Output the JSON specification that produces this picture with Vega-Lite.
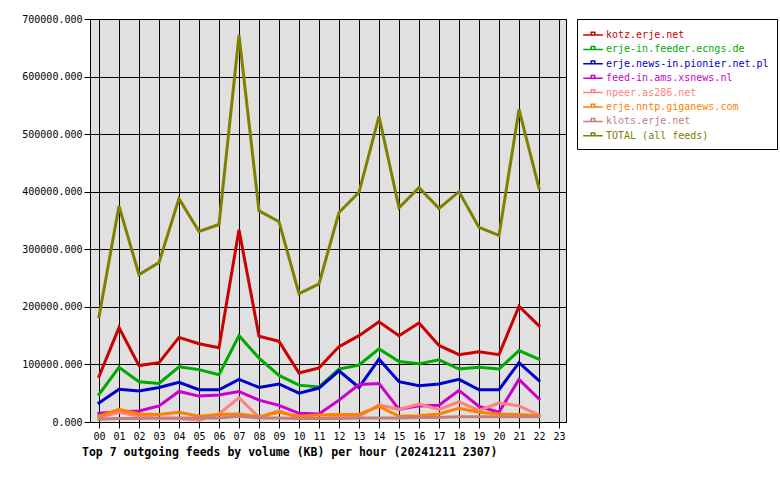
{
  "$schema": "https://vega.github.io/schema/vega-lite/v6.json",
  "width": 476,
  "height": 403,
  "autosize": "none",
  "padding": {"left": 90, "top": 19, "right": 214, "bottom": 58},
  "background": "white",
  "title": {
    "text": "Top 7 outgoing feeds by volume (KB) per hour (20241211 2307)",
    "orient": "bottom",
    "anchor": "start",
    "frame": "group",
    "dx": -8,
    "offset": 6,
    "font": "DejaVu Sans Mono",
    "fontWeight": "bold",
    "fontSize": 11.5,
    "color": "black"
  },
  "config": {
    "view": {"fill": "#e0e0e0", "stroke": "black", "strokeWidth": 1},
    "axis": {
      "gridColor": "black",
      "gridOpacity": 1,
      "gridWidth": 1,
      "domainColor": "black",
      "tickColor": "black",
      "tickSize": 6,
      "labelColor": "black",
      "labelFont": "DejaVu Sans Mono",
      "labelFontSize": 10,
      "title": null
    }
  },
  "datasets": {
    "feeds": [
      {"h":0,"f":"kotz.erje.net","v":79000},{"h":1,"f":"kotz.erje.net","v":164000},{"h":2,"f":"kotz.erje.net","v":98000},{"h":3,"f":"kotz.erje.net","v":103000},{"h":4,"f":"kotz.erje.net","v":147000},{"h":5,"f":"kotz.erje.net","v":136000},{"h":6,"f":"kotz.erje.net","v":129000},{"h":7,"f":"kotz.erje.net","v":334000},{"h":8,"f":"kotz.erje.net","v":149000},{"h":9,"f":"kotz.erje.net","v":140000},{"h":10,"f":"kotz.erje.net","v":85000},{"h":11,"f":"kotz.erje.net","v":94000},{"h":12,"f":"kotz.erje.net","v":131000},{"h":13,"f":"kotz.erje.net","v":150000},{"h":14,"f":"kotz.erje.net","v":174000},{"h":15,"f":"kotz.erje.net","v":150000},{"h":16,"f":"kotz.erje.net","v":172000},{"h":17,"f":"kotz.erje.net","v":133000},{"h":18,"f":"kotz.erje.net","v":117000},{"h":19,"f":"kotz.erje.net","v":122000},{"h":20,"f":"kotz.erje.net","v":117000},{"h":21,"f":"kotz.erje.net","v":201000},{"h":22,"f":"kotz.erje.net","v":167000},
      {"h":0,"f":"erje-in.feeder.ecngs.de","v":48000},{"h":1,"f":"erje-in.feeder.ecngs.de","v":95000},{"h":2,"f":"erje-in.feeder.ecngs.de","v":70000},{"h":3,"f":"erje-in.feeder.ecngs.de","v":67000},{"h":4,"f":"erje-in.feeder.ecngs.de","v":96000},{"h":5,"f":"erje-in.feeder.ecngs.de","v":91000},{"h":6,"f":"erje-in.feeder.ecngs.de","v":82000},{"h":7,"f":"erje-in.feeder.ecngs.de","v":150000},{"h":8,"f":"erje-in.feeder.ecngs.de","v":111000},{"h":9,"f":"erje-in.feeder.ecngs.de","v":81000},{"h":10,"f":"erje-in.feeder.ecngs.de","v":64000},{"h":11,"f":"erje-in.feeder.ecngs.de","v":61000},{"h":12,"f":"erje-in.feeder.ecngs.de","v":92000},{"h":13,"f":"erje-in.feeder.ecngs.de","v":99000},{"h":14,"f":"erje-in.feeder.ecngs.de","v":127000},{"h":15,"f":"erje-in.feeder.ecngs.de","v":105000},{"h":16,"f":"erje-in.feeder.ecngs.de","v":101000},{"h":17,"f":"erje-in.feeder.ecngs.de","v":108000},{"h":18,"f":"erje-in.feeder.ecngs.de","v":92000},{"h":19,"f":"erje-in.feeder.ecngs.de","v":95000},{"h":20,"f":"erje-in.feeder.ecngs.de","v":92000},{"h":21,"f":"erje-in.feeder.ecngs.de","v":124000},{"h":22,"f":"erje-in.feeder.ecngs.de","v":109000},
      {"h":0,"f":"erje.news-in.pionier.net.pl","v":33000},{"h":1,"f":"erje.news-in.pionier.net.pl","v":57000},{"h":2,"f":"erje.news-in.pionier.net.pl","v":54000},{"h":3,"f":"erje.news-in.pionier.net.pl","v":60000},{"h":4,"f":"erje.news-in.pionier.net.pl","v":69000},{"h":5,"f":"erje.news-in.pionier.net.pl","v":56000},{"h":6,"f":"erje.news-in.pionier.net.pl","v":56000},{"h":7,"f":"erje.news-in.pionier.net.pl","v":74000},{"h":8,"f":"erje.news-in.pionier.net.pl","v":60000},{"h":9,"f":"erje.news-in.pionier.net.pl","v":66000},{"h":10,"f":"erje.news-in.pionier.net.pl","v":50000},{"h":11,"f":"erje.news-in.pionier.net.pl","v":59000},{"h":12,"f":"erje.news-in.pionier.net.pl","v":89000},{"h":13,"f":"erje.news-in.pionier.net.pl","v":60000},{"h":14,"f":"erje.news-in.pionier.net.pl","v":109000},{"h":15,"f":"erje.news-in.pionier.net.pl","v":70000},{"h":16,"f":"erje.news-in.pionier.net.pl","v":63000},{"h":17,"f":"erje.news-in.pionier.net.pl","v":66000},{"h":18,"f":"erje.news-in.pionier.net.pl","v":74000},{"h":19,"f":"erje.news-in.pionier.net.pl","v":56000},{"h":20,"f":"erje.news-in.pionier.net.pl","v":56000},{"h":21,"f":"erje.news-in.pionier.net.pl","v":103000},{"h":22,"f":"erje.news-in.pionier.net.pl","v":72000},
      {"h":0,"f":"feed-in.ams.xsnews.nl","v":15000},{"h":1,"f":"feed-in.ams.xsnews.nl","v":18000},{"h":2,"f":"feed-in.ams.xsnews.nl","v":19000},{"h":3,"f":"feed-in.ams.xsnews.nl","v":28000},{"h":4,"f":"feed-in.ams.xsnews.nl","v":53000},{"h":5,"f":"feed-in.ams.xsnews.nl","v":45000},{"h":6,"f":"feed-in.ams.xsnews.nl","v":47000},{"h":7,"f":"feed-in.ams.xsnews.nl","v":53000},{"h":8,"f":"feed-in.ams.xsnews.nl","v":38000},{"h":9,"f":"feed-in.ams.xsnews.nl","v":29000},{"h":10,"f":"feed-in.ams.xsnews.nl","v":15000},{"h":11,"f":"feed-in.ams.xsnews.nl","v":14000},{"h":12,"f":"feed-in.ams.xsnews.nl","v":38000},{"h":13,"f":"feed-in.ams.xsnews.nl","v":65000},{"h":14,"f":"feed-in.ams.xsnews.nl","v":67000},{"h":15,"f":"feed-in.ams.xsnews.nl","v":22000},{"h":16,"f":"feed-in.ams.xsnews.nl","v":28000},{"h":17,"f":"feed-in.ams.xsnews.nl","v":29000},{"h":18,"f":"feed-in.ams.xsnews.nl","v":55000},{"h":19,"f":"feed-in.ams.xsnews.nl","v":27000},{"h":20,"f":"feed-in.ams.xsnews.nl","v":17000},{"h":21,"f":"feed-in.ams.xsnews.nl","v":74000},{"h":22,"f":"feed-in.ams.xsnews.nl","v":40000},
      {"h":0,"f":"npeer.as286.net","v":8000},{"h":1,"f":"npeer.as286.net","v":17000},{"h":2,"f":"npeer.as286.net","v":10000},{"h":3,"f":"npeer.as286.net","v":6000},{"h":4,"f":"npeer.as286.net","v":6000},{"h":5,"f":"npeer.as286.net","v":3000},{"h":6,"f":"npeer.as286.net","v":14000},{"h":7,"f":"npeer.as286.net","v":42000},{"h":8,"f":"npeer.as286.net","v":8000},{"h":9,"f":"npeer.as286.net","v":20000},{"h":10,"f":"npeer.as286.net","v":6000},{"h":11,"f":"npeer.as286.net","v":6000},{"h":12,"f":"npeer.as286.net","v":9000},{"h":13,"f":"npeer.as286.net","v":10000},{"h":14,"f":"npeer.as286.net","v":30000},{"h":15,"f":"npeer.as286.net","v":22000},{"h":16,"f":"npeer.as286.net","v":31000},{"h":17,"f":"npeer.as286.net","v":22000},{"h":18,"f":"npeer.as286.net","v":35000},{"h":19,"f":"npeer.as286.net","v":20000},{"h":20,"f":"npeer.as286.net","v":33000},{"h":21,"f":"npeer.as286.net","v":28000},{"h":22,"f":"npeer.as286.net","v":12000},
      {"h":0,"f":"erje.nntp.giganews.com","v":10000},{"h":1,"f":"erje.nntp.giganews.com","v":22000},{"h":2,"f":"erje.nntp.giganews.com","v":14000},{"h":3,"f":"erje.nntp.giganews.com","v":13000},{"h":4,"f":"erje.nntp.giganews.com","v":17000},{"h":5,"f":"erje.nntp.giganews.com","v":10000},{"h":6,"f":"erje.nntp.giganews.com","v":13000},{"h":7,"f":"erje.nntp.giganews.com","v":14000},{"h":8,"f":"erje.nntp.giganews.com","v":9000},{"h":9,"f":"erje.nntp.giganews.com","v":17000},{"h":10,"f":"erje.nntp.giganews.com","v":10000},{"h":11,"f":"erje.nntp.giganews.com","v":12000},{"h":12,"f":"erje.nntp.giganews.com","v":13000},{"h":13,"f":"erje.nntp.giganews.com","v":13000},{"h":14,"f":"erje.nntp.giganews.com","v":27000},{"h":15,"f":"erje.nntp.giganews.com","v":10000},{"h":16,"f":"erje.nntp.giganews.com","v":11000},{"h":17,"f":"erje.nntp.giganews.com","v":14000},{"h":18,"f":"erje.nntp.giganews.com","v":24000},{"h":19,"f":"erje.nntp.giganews.com","v":17000},{"h":20,"f":"erje.nntp.giganews.com","v":14000},{"h":21,"f":"erje.nntp.giganews.com","v":13000},{"h":22,"f":"erje.nntp.giganews.com","v":11000},
      {"h":0,"f":"klots.erje.net","v":5000},{"h":1,"f":"klots.erje.net","v":6000},{"h":2,"f":"klots.erje.net","v":6000},{"h":3,"f":"klots.erje.net","v":7000},{"h":4,"f":"klots.erje.net","v":7000},{"h":5,"f":"klots.erje.net","v":7000},{"h":6,"f":"klots.erje.net","v":7000},{"h":7,"f":"klots.erje.net","v":10000},{"h":8,"f":"klots.erje.net","v":7000},{"h":9,"f":"klots.erje.net","v":7000},{"h":10,"f":"klots.erje.net","v":6000},{"h":11,"f":"klots.erje.net","v":6000},{"h":12,"f":"klots.erje.net","v":6000},{"h":13,"f":"klots.erje.net","v":7000},{"h":14,"f":"klots.erje.net","v":7000},{"h":15,"f":"klots.erje.net","v":7000},{"h":16,"f":"klots.erje.net","v":8000},{"h":17,"f":"klots.erje.net","v":8000},{"h":18,"f":"klots.erje.net","v":9000},{"h":19,"f":"klots.erje.net","v":9000},{"h":20,"f":"klots.erje.net","v":9000},{"h":21,"f":"klots.erje.net","v":9000},{"h":22,"f":"klots.erje.net","v":9000},
      {"h":0,"f":"TOTAL (all feeds)","v":183000},{"h":1,"f":"TOTAL (all feeds)","v":375000},{"h":2,"f":"TOTAL (all feeds)","v":256000},{"h":3,"f":"TOTAL (all feeds)","v":277000},{"h":4,"f":"TOTAL (all feeds)","v":388000},{"h":5,"f":"TOTAL (all feeds)","v":331000},{"h":6,"f":"TOTAL (all feeds)","v":343000},{"h":7,"f":"TOTAL (all feeds)","v":672000},{"h":8,"f":"TOTAL (all feeds)","v":367000},{"h":9,"f":"TOTAL (all feeds)","v":348000},{"h":10,"f":"TOTAL (all feeds)","v":223000},{"h":11,"f":"TOTAL (all feeds)","v":240000},{"h":12,"f":"TOTAL (all feeds)","v":364000},{"h":13,"f":"TOTAL (all feeds)","v":399000},{"h":14,"f":"TOTAL (all feeds)","v":531000},{"h":15,"f":"TOTAL (all feeds)","v":372000},{"h":16,"f":"TOTAL (all feeds)","v":407000},{"h":17,"f":"TOTAL (all feeds)","v":371000},{"h":18,"f":"TOTAL (all feeds)","v":400000},{"h":19,"f":"TOTAL (all feeds)","v":338000},{"h":20,"f":"TOTAL (all feeds)","v":324000},{"h":21,"f":"TOTAL (all feeds)","v":543000},{"h":22,"f":"TOTAL (all feeds)","v":406000}
    ]
  },
  "data": {"name": "feeds"},
  "mark": {"type": "line", "strokeWidth": 3, "strokeJoin": "miter", "strokeCap": "square"},
  "encoding": {
    "x": {
      "field": "h",
      "type": "quantitative",
      "scale": {"domain": [-0.45, 23.35], "nice": false, "zero": false},
      "axis": {
        "values": [0,1,2,3,4,5,6,7,8,9,10,11,12,13,14,15,16,17,18,19,20,21,22,23],
        "labelExpr": "(datum.value < 10 ? '0' : '') + datum.value",
        "labelPadding": 3,
        "domain": true,
        "labelFlush": false,
        "labelOverlap": false
      }
    },
    "y": {
      "field": "v",
      "type": "quantitative",
      "scale": {"domain": [0, 700000], "nice": false},
      "axis": {
        "values": [0,100000,200000,300000,400000,500000,600000,700000],
        "format": ".3f",
        "labelPadding": 2,
        "labelFlush": false,
        "labelOverlap": false
      }
    },
    "color": {
      "field": "f",
      "type": "nominal",
      "sort": ["kotz.erje.net","erje-in.feeder.ecngs.de","erje.news-in.pionier.net.pl","feed-in.ams.xsnews.nl","npeer.as286.net","erje.nntp.giganews.com","klots.erje.net","TOTAL (all feeds)"],
      "scale": {
        "domain": ["kotz.erje.net","erje-in.feeder.ecngs.de","erje.news-in.pionier.net.pl","feed-in.ams.xsnews.nl","npeer.as286.net","erje.nntp.giganews.com","klots.erje.net","TOTAL (all feeds)"],
        "range": ["#cc0000","#00aa00","#0000cc","#cc00cc","#ff8080","#ff8000","#c08080","#808000"]
      },
      "legend": {
        "title": null,
        "orient": "none",
        "legendX": 487,
        "legendY": 0,
        "padding": 8,
        "strokeColor": "black",
        "fillColor": "white",
        "symbolType": "M-1.4,0H1.4M-0.25,0V-0.4H0.25V0",
        "symbolSize": 196,
        "symbolStrokeWidth": 1.5,
        "symbolFillColor": "transparent",
        "labelFont": "DejaVu Sans Mono",
        "labelFontSize": 10,
        "labelOffset": 5,
        "rowPadding": 1.4,
        "labelLimit": 300,
        "encode": {"labels": {"update": {"fill": {"scale": "color", "field": "value"}}}}
      }
    },
    "order": {"field": "h", "type": "quantitative"}
  }
}
